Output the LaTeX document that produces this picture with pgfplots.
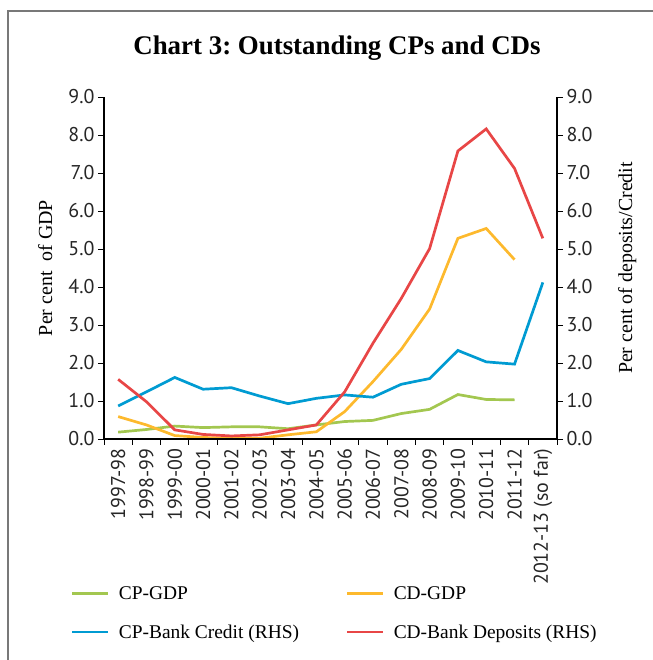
\documentclass[border=0pt]{standalone}
\usepackage{pgfplots}
\usepackage{pgfplotstable}
\pgfplotsset{compat=1.18}
\usepackage{fontspec}
\setmainfont{Liberation Serif}
\newfontfamily\tickfont{PT Sans}
\definecolor{cpgdp}{RGB}{163,199,80}
\definecolor{cdgdp}{RGB}{253,185,45}
\definecolor{cpbank}{RGB}{0,155,210}
\definecolor{cdbank}{RGB}{232,70,70}
\definecolor{framegray}{RGB}{120,120,120}

\pgfplotstableread{
x cpgdp cdgdp cpbank cdbank
0  0.18 0.59 0.87 1.57
1  0.25 0.37 1.24 0.98
2  0.34 0.09 1.62 0.24
3  0.30 0.04 1.31 0.12
4  0.32 0.02 1.35 0.08
5  0.32 0.02 1.13 0.11
6  0.27 0.11 0.93 0.24
7  0.37 0.19 1.07 0.37
8  0.46 0.72 1.16 1.24
9  0.49 1.51 1.10 2.52
10 0.67 2.36 1.44 3.70
11 0.78 3.42 1.59 5.01
12 1.17 5.28 2.33 7.58
13 1.04 5.54 2.03 8.16
14 1.03 4.72 1.97 7.12
15 nan  nan  4.12 5.28
}\chartdata

\pgfplotsset{
  common/.style={
    at={(104bp,221bp)}, anchor=south west,
    scale only axis, width=453bp, height=342bp,
    xmin=-0.5, xmax=15.5, ymin=0, ymax=9,
    ytick={0,1,...,9},
    tick align=outside,
    major tick length=6bp,
    every tick/.style={black, line width=0.9bp},
    axis line style={black, line width=1.3bp},
    /pgf/number format/assume math mode=true,
    ticklabel style={font=\tickfont\fontsize{20}{20}\selectfont, black!85},
    yticklabel style={/pgf/number format/.cd, fixed, fixed zerofill, precision=1},
    xticklabel style={rotate=90, anchor=east},
    label style={font=\fontsize{20}{20}\selectfont},
    every axis plot/.append style={line width=2.7bp},
    clip=false,
  }
}

\begin{document}
\frenchspacing
\begin{tikzpicture}
\path[use as bounding box] (0bp,0bp) rectangle (653bp,660bp);
\draw[framegray, line width=1.5bp] (8bp,0bp) -- (8bp,649bp) -- (653bp,649bp);
\node[anchor=base, font=\bfseries\fontsize{27}{27}\selectfont] at (337bp,605bp) {Chart 3: Outstanding CPs and CDs};

\begin{axis}[common,
  axis y line*=left, axis x line*=bottom,
  xtick={-0.5,0.5,...,15.5}, xticklabels={},
  ylabel={Per cent\ \ of GDP},
  ylabel style={at={(axis description cs:-0.13,0.5)}, anchor=center},
]
\addplot[cpgdp] table[x=x, y=cpgdp] {\chartdata};
\addplot[cdgdp] table[x=x, y=cdgdp] {\chartdata};
\end{axis}

\begin{axis}[common,
  axis y line*=right, axis x line*=bottom,
  xtick={0,1,...,15},
  xticklabels={1997-98,1998-99,1999-00,2000-01,2001-02,2002-03,2003-04,2004-05,2005-06,2006-07,2007-08,2008-09,2009-10,2010-11,2011-12,2012-13 (so far)},
  xtick style={draw=none},
  ylabel={Per cent of deposits/Credit},
  ylabel style={at={(axis description cs:1.155,0.5)}, anchor=center},
  legend columns=2,
  legend cell align=left,
  legend image code/.code={\draw[#1] (0bp,0bp) -- (36bp,0bp);},
  legend style={at={(-0.073,-0.424)}, anchor=north west, draw=none, fill=none,
    inner sep=0pt, font=\fontsize{19.5}{19.5}\selectfont, row sep=20bp,
    /tikz/every odd column/.append style={column sep=7bp},
    /tikz/every even column/.append style={column sep=45bp}},
]
\addlegendimage{cpgdp, line width=2.7bp}
\addlegendentry{CP-GDP}
\addlegendimage{cdgdp, line width=2.7bp}
\addlegendentry{CD-GDP}
\addplot[cpbank] table[x=x, y=cpbank] {\chartdata};
\addlegendentry{CP-Bank Credit (RHS)}
\addplot[cdbank] table[x=x, y=cdbank] {\chartdata};
\addlegendentry{CD-Bank Deposits (RHS)}
\end{axis}
\end{tikzpicture}
\end{document}
